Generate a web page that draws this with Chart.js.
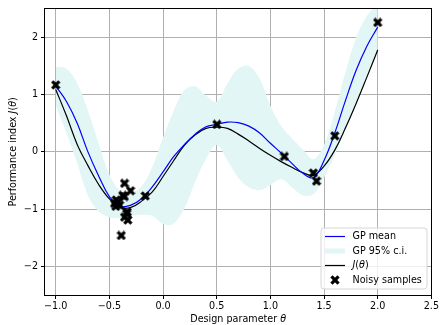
<!DOCTYPE html>
<html>
<head>
<meta charset="utf-8">
<script src="https://cdn.jsdelivr.net/npm/chart.js@4"></script>
<style>
  html, body { margin: 0; padding: 0; background: #fff; }
  canvas { display: block; }
</style>
</head>
<body>
<canvas id="chart" width="441" height="325"></canvas>
<script>
// design parameter grid used for the curves
const theta = [-1.0, -0.9, -0.8, -0.7, -0.6, -0.5, -0.4, -0.3, -0.2, -0.1,
               0.0, 0.1, 0.2, 0.3, 0.4, 0.5, 0.6, 0.7, 0.8, 0.9,
               1.0, 1.1, 1.2, 1.3, 1.4, 1.5, 1.6, 1.7, 1.8, 1.9, 2.0];

const gpMean = [1.15, 0.88, 0.50, 0.00, -0.42, -0.78, -0.95, -0.93, -0.82, -0.61,
                -0.35, -0.08, 0.13, 0.31, 0.44, 0.48, 0.52, 0.51, 0.45, 0.33,
                0.15, -0.02, -0.20, -0.37, -0.45, -0.15, 0.33, 0.90, 1.43, 1.85, 2.18];

const gpUpper = [1.49, 1.45, 1.20, 0.72, 0.15, -0.40, -0.68, -0.72, -0.60, -0.26,
                 0.25, 0.72, 1.08, 1.14, 0.98, 0.88, 1.20, 1.45, 1.50, 1.28,
                 0.80, 0.45, 0.24, 0.05, -0.13, 0.12, 0.70, 1.40, 2.00, 2.38, 2.58];

const gpLower = [0.80, 0.33, -0.20, -0.76, -1.04, -1.14, -1.16, -1.12, -1.10, -1.12,
                 -1.26, -1.25, -0.98, -0.52, -0.12, 0.12, -0.15, -0.45, -0.62, -0.67,
                 -0.58, -0.48, -0.62, -0.76, -0.74, -0.45, -0.05, 0.40, 0.88, 1.34, 1.80];

const trueJ = [1.09, 0.63, 0.13, -0.24, -0.57, -0.82, -0.97, -0.97, -0.86, -0.70,
               -0.43, -0.15, 0.12, 0.30, 0.41, 0.43, 0.41, 0.31, 0.19, 0.06,
               -0.06, -0.17, -0.27, -0.36, -0.41, -0.25, 0.03, 0.42, 0.85, 1.31, 1.78];

const sampleX = [-1.0, -0.452, -0.44, -0.436, -0.42, -0.405, -0.389, -0.375, -0.36, -0.359,
                 -0.359, -0.34, -0.334, -0.328, -0.303, -0.166, 0.502, 1.13, 1.40, 1.43, 1.60, 2.0];
const sampleY = [1.17, -0.90, -0.95, -0.84, -0.88, -0.93, -1.46, -0.76, -0.78, -0.55,
                 -1.14, -1.08, -1.05, -1.19, -0.68, -0.77, 0.48, -0.08, -0.37, -0.51, 0.28, 2.26];

const xTicks = [-1.0, -0.5, 0.0, 0.5, 1.0, 1.5, 2.0, 2.5];
const yTicks = [-2, -1, 0, 1, 2];

const FONT = '"DejaVu Sans", sans-serif';
const BAND = 'rgb(226,246,246)';

function pts(xs, ys) {
    return xs.map((x, i) => ({x: x, y: ys[i]}));
}
function fmt(v, d) {
    const s = Math.abs(v).toFixed(d);
    return (v < 0 ? '\u2212' : '') + s;
}

// filled "X" marker like matplotlib's 'X'
const marker = document.createElement('canvas');
marker.width = 10; marker.height = 10;
(function() {
    const c = marker.getContext('2d');
    c.translate(5, 5);
    c.rotate(Math.PI / 4);
    c.fillStyle = '#000';
    c.fillRect(-5, -1.6, 10, 3.2);
    c.fillRect(-1.6, -5, 3.2, 10);
})();

// draw a string made of pieces in different font styles
function richText(ctx, parts, x, y, align) {
    let total = 0;
    parts.forEach(p => { ctx.font = p.font; total += ctx.measureText(p.t).width; });
    let cx = align === 'center' ? x - total / 2 : x;
    parts.forEach(p => {
        ctx.font = p.font;
        ctx.textAlign = 'left';
        ctx.fillText(p.t, cx, y);
        cx += ctx.measureText(p.t).width;
    });
}

const size = 9.6;
const norm = size + 'px ' + FONT;
const ital = 'italic ' + size + 'px ' + FONT;

const decorations = {
    id: 'decorations',
    afterDatasetsDraw(chart) {
        const {ctx, chartArea: a} = chart;
        ctx.save();
        ctx.strokeStyle = '#000';
        ctx.lineWidth = 1;
        ctx.strokeRect(Math.round(a.left) - 0.5, Math.round(a.top) - 0.5,
                       Math.round(a.right - a.left) + 1, Math.round(a.bottom - a.top) + 1);
        ctx.restore();
    },
    afterDraw(chart) {
        const {ctx, chartArea: a} = chart;
        ctx.save();
        ctx.fillStyle = '#000';
        ctx.textBaseline = 'middle';
        // x title
        richText(ctx, [{t: 'Design parameter ', font: norm}, {t: '\u03b8', font: ital}],
                 (a.left + a.right) / 2, 319, 'center');
        // y title
        ctx.save();
        ctx.translate(13, (a.top + a.bottom) / 2);
        ctx.rotate(-Math.PI / 2);
        richText(ctx, [{t: 'Performance index ', font: norm}, {t: 'J', font: ital},
                       {t: '(', font: norm}, {t: '\u03b8', font: ital}, {t: ')', font: norm}],
                 0, 0, 'center');
        ctx.restore();

        // legend
        const bx = 321, by = 228, bw = 106, bh = 61, r = 3;
        ctx.beginPath();
        ctx.moveTo(bx + r, by);
        ctx.arcTo(bx + bw, by, bx + bw, by + bh, r);
        ctx.arcTo(bx + bw, by + bh, bx, by + bh, r);
        ctx.arcTo(bx, by + bh, bx, by, r);
        ctx.arcTo(bx, by, bx + bw, by, r);
        ctx.closePath();
        ctx.fillStyle = 'rgba(255,255,255,0.8)';
        ctx.fill();
        ctx.strokeStyle = '#d6d6d6';
        ctx.lineWidth = 1;
        ctx.stroke();

        const rows = [236.5, 251, 265.5, 280];
        const x0 = 325, x1 = 345, tx = 352.5;
        ctx.lineCap = 'butt';
        ctx.strokeStyle = '#0000ff'; ctx.lineWidth = 1.2;
        ctx.beginPath(); ctx.moveTo(x0, rows[0]); ctx.lineTo(x1, rows[0]); ctx.stroke();
        ctx.strokeStyle = BAND; ctx.lineWidth = 5;
        ctx.beginPath(); ctx.moveTo(x0, rows[1]); ctx.lineTo(x1, rows[1]); ctx.stroke();
        ctx.strokeStyle = '#000'; ctx.lineWidth = 1.2;
        ctx.beginPath(); ctx.moveTo(x0, rows[2]); ctx.lineTo(x1, rows[2]); ctx.stroke();
        ctx.drawImage(marker, (x0 + x1) / 2 - 5, rows[3] - 5);

        ctx.fillStyle = '#000';
        richText(ctx, [{t: 'GP mean', font: norm}], tx, rows[0], 'left');
        richText(ctx, [{t: 'GP 95% c.i.', font: norm}], tx, rows[1], 'left');
        richText(ctx, [{t: 'J', font: ital}, {t: '(', font: norm}, {t: '\u03b8', font: ital},
                       {t: ')', font: norm}], tx, rows[2], 'left');
        richText(ctx, [{t: 'Noisy samples', font: norm}], tx, rows[3], 'left');
        ctx.restore();
    }
};

const gridOpts = {color: '#b0b0b0', lineWidth: 1, tickColor: '#000', tickLength: 4, drawTicks: true};

new Chart(document.getElementById('chart'), {
    type: 'line',
    data: {
        datasets: [
            {
                label: 'GP 95% c.i. upper',
                data: pts(theta, gpUpper),
                borderWidth: 0,
                borderColor: 'rgba(0,0,0,0)',
                backgroundColor: BAND,
                pointRadius: 0,
                fill: '+1',
                tension: 0.35,
                order: 10
            },
            {
                label: 'GP 95% c.i. lower',
                data: pts(theta, gpLower),
                borderWidth: 0,
                borderColor: 'rgba(0,0,0,0)',
                pointRadius: 0,
                fill: false,
                tension: 0.35,
                order: 9
            },
            {
                label: 'J(θ)',
                data: pts(theta, trueJ),
                borderColor: '#000',
                borderWidth: 1.2,
                pointRadius: 0,
                fill: false,
                tension: 0.4,
                order: 2
            },
            {
                label: 'GP mean',
                data: pts(theta, gpMean),
                borderColor: '#0000ff',
                borderWidth: 1.2,
                pointRadius: 0,
                fill: false,
                tension: 0.4,
                order: 1
            },
            {
                label: 'Noisy samples',
                data: pts(sampleX, sampleY),
                showLine: false,
                pointStyle: marker,
                pointRadius: 5,
                fill: false,
                order: 0
            }
        ]
    },
    options: {
        responsive: false,
        animation: false,
        devicePixelRatio: 1,
        layout: {padding: {top: 8, right: 8, left: 0, bottom: 0}},
        plugins: {
            legend: {display: false},
            tooltip: {enabled: false},
            filler: {drawTime: 'beforeDatasetsDraw'}
        },
        scales: {
            x: {
                type: 'linear',
                min: -1.1,
                max: 2.5,
                afterBuildTicks: axis => { axis.ticks = xTicks.map(v => ({value: v})); },
                afterFit: s => { s.height = 30; },
                ticks: {
                    callback: v => fmt(v, 1),
                    font: {family: FONT, size: size},
                    color: '#000',
                    padding: 2,
                    maxRotation: 0,
                    autoSkip: false
                },
                grid: gridOpts,
                border: {display: false}
            },
            y: {
                type: 'linear',
                min: -2.5,
                max: 2.5,
                afterBuildTicks: axis => { axis.ticks = yTicks.map(v => ({value: v})); },
                afterFit: s => { s.width = 45; },
                ticks: {
                    callback: v => fmt(v, 0),
                    font: {family: FONT, size: size},
                    color: '#000',
                    padding: 3
                },
                grid: gridOpts,
                border: {display: false}
            }
        }
    },
    plugins: [decorations]
});
</script>
</body>
</html>
